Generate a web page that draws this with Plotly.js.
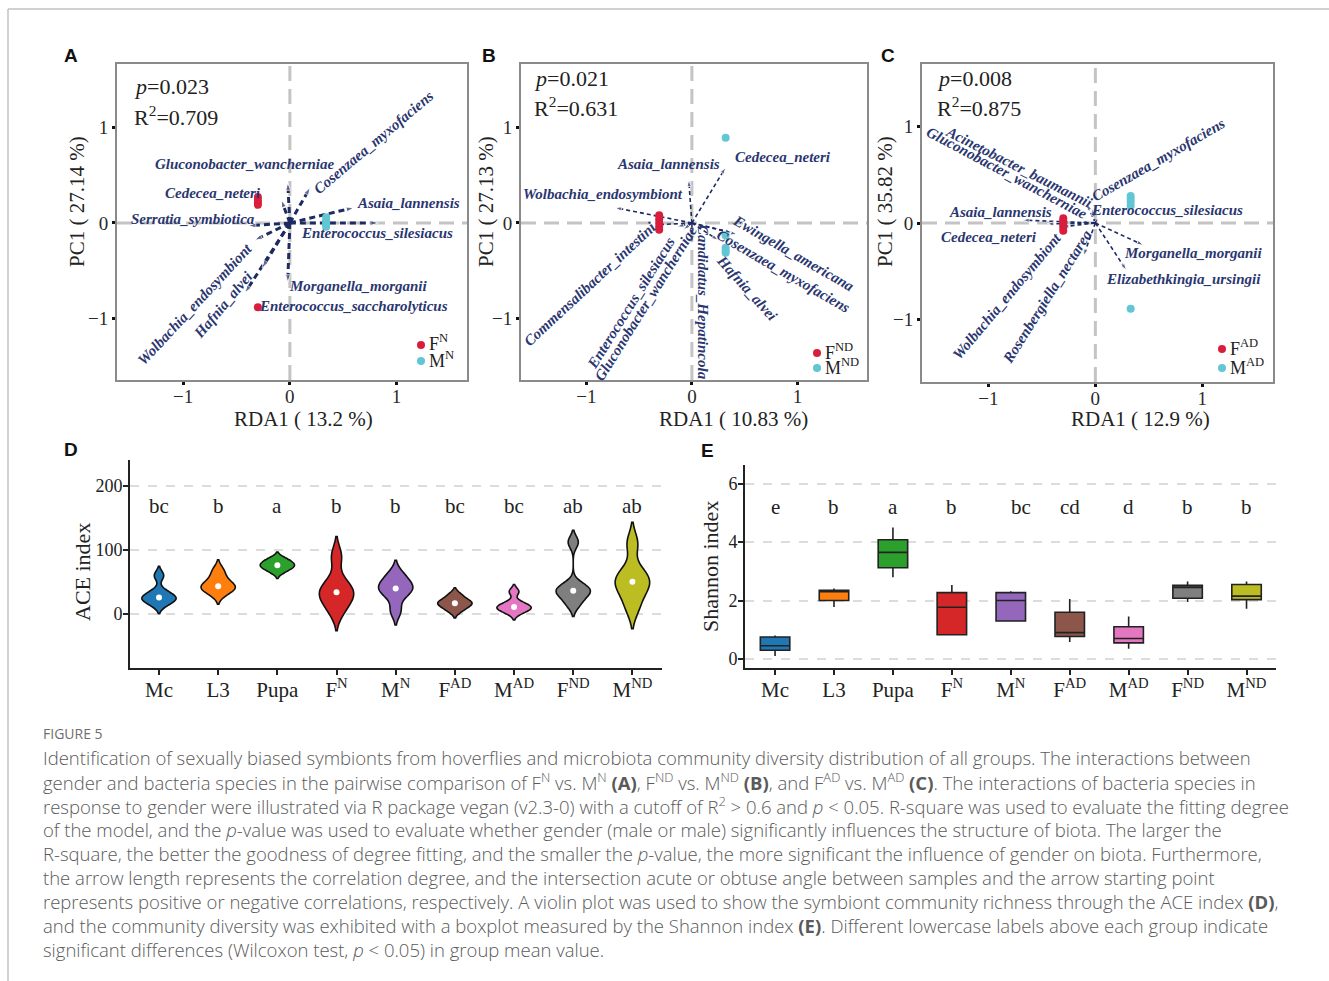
<!DOCTYPE html>
<html><head><meta charset="utf-8">
<script src="https://cdn.plot.ly/plotly-3.0.1.min.js"></script>
<style>html,body{margin:0;padding:0;background:#fff;}#chart{width:1329px;height:981px;}</style>
</head><body><div id="chart"></div>
<script>
// ---------------- DATA ----------------
// Panel A (F^N vs M^N)
const speciesA = ['Gluconobacter_wancherniae','Cedecea_neteri','Cosenzaea_myxofaciens','Asaia_lannensis','Enterococcus_silesiacus','Serratia_symbiotica','Wolbachia_endosymbiont','Hafnia_alvei','Enterococcus_saccharolyticus','Morganella_morganii'];
const loadAx = [-0.02,-0.08,0.19,0.60,0.83,-0.39,-0.33,-0.42,-0.26,-0.02];
const loadAy = [0.42,0.24,0.37,0.16,0.00,-0.03,-0.18,-0.73,-0.47,-0.62];
const ptsAFx = [-0.30,-0.30,-0.30,-0.30,-0.30];
const ptsAFy = [0.27,0.24,0.21,0.19,-0.88];
const ptsAMx = [0.34,0.34,0.34,0.34,0.34];
const ptsAMy = [0.06,0.03,0.00,-0.02,-0.04];
// Panel B (F^ND vs M^ND)
const speciesB = ['Cedecea_neteri','Asaia_lannensis','Wolbachia_endosymbiont','Ewingella_americana','Cosenzaea_myxofaciens','Hafnia_alvei','Candidatus_Hepatincola','Gluconobacter_wancherniae','Enterococcus_silesiacus','Commensalibacter_intestini'];
const loadBx = [0.32,-0.03,-0.73,0.43,0.38,0.25,0.00,-0.08,-0.14,-0.35];
const loadBy = [0.58,0.45,0.16,-0.12,-0.10,-0.18,-0.22,-0.07,-0.04,-0.02];
const ptsBFx = [-0.31,-0.31,-0.31,-0.31,-0.31];
const ptsBFy = [0.08,0.04,0.00,-0.04,-0.07];
const ptsBMx = [0.32,0.32,0.32,0.32,0.32];
const ptsBMy = [0.89,-0.13,-0.26,-0.29,-0.31];
// Panel C (F^AD vs M^AD)
const speciesC = ['Acinetobacter_baumannii','Gluconobacter_wancherniae','Cosenzaea_myxofaciens','Enterococcus_silesiacus','Asaia_lannensis','Cedecea_neteri','Morganella_morganii','Elizabethkingia_ursingii','Wolbachia_endosymbiont','Rosenbergiella_nectarea'];
const loadCx = [-0.08,-0.14,-0.03,0.02,-0.68,-0.45,0.45,0.29,-0.31,-0.11];
const loadCy = [0.20,0.01,0.15,0.05,0.03,-0.01,-0.23,-0.49,-0.04,-0.34];
const ptsCFx = [-0.30,-0.30,-0.30,-0.30,-0.30];
const ptsCFy = [0.05,0.02,-0.02,-0.05,-0.08];
const ptsCMx = [0.33,0.33,0.33,0.33,0.33];
const ptsCMy = [0.28,0.25,0.22,0.18,-0.89];
const statsP = ['0.023','0.021','0.008'];
const statsR2 = ['0.709','0.631','0.875'];
const rdaX = ['RDA1 ( 13.2 %)','RDA1 ( 10.83 %)','RDA1 ( 12.9 %)'];
const rdaY = ['PC1 ( 27.14 %)','PC1 ( 27.13 %)','PC1 ( 35.82 %)'];
const legF = ['F<sup>N</sup>','F<sup>ND</sup>','F<sup>AD</sup>'];
const legM = ['M<sup>N</sup>','M<sup>ND</sup>','M<sup>AD</sup>'];
// Panel D / E groups
const groups = ['Mc','L3','Pupa','F<sup>N</sup>','M<sup>N</sup>','F<sup>AD</sup>','M<sup>AD</sup>','F<sup>ND</sup>','M<sup>ND</sup>'];
const aceMc   = [15,22,25,27,35,60];
const aceL3   = [32,40,42,45,55,68];
const acePupa = [66,72,75,77,82,86];
const aceFN   = [5,22,32,36,50,90];
const aceMN   = [5,30,38,42,50,62];
const aceFAD  = [5,12,16,18,22,30];
const aceMAD  = [2,8,10,12,18,35];
const aceFND  = [15,28,35,38,45,112];
const aceMND  = [10,35,45,56,65,110];
const aceLetters = ['bc','b','a','b','b','bc','bc','ab','ab'];
const shQ1  = [0.30,2.00,3.12,0.83,1.30,0.77,0.55,2.08,2.03];
const shMed = [0.45,2.30,3.65,1.77,2.00,0.90,0.70,2.45,2.15];
const shQ3  = [0.75,2.35,4.08,2.27,2.27,1.60,1.10,2.52,2.55];
const shLo  = [0.10,1.78,2.80,0.80,1.30,0.58,0.35,1.95,1.72];
const shHi  = [0.80,2.41,4.50,2.53,2.32,2.05,1.45,2.65,2.65];
const shLetters = ['e','b','a','b','bc','cd','d','b','b'];

// ---------------- STYLE / LAYOUT ----------------
const W = 1329, H = 981;
const PX = px => px / W, PY = py => 1 - py / H;
const SERIF = 'Liberation Serif, Times New Roman, serif';
const SANS = 'Liberation Sans, Arial, sans-serif';
const CAPF = 'Open Sans, Lato, sans-serif';
const NAVY = '#1e2b63', LABNAVY = '#2a3670';
const RED = '#d81e3c', CYAN = '#62c6d4';
const vColors = ['#1f77b4','#ff7f0e','#2ca02c','#d62728','#9467bd','#8c564b','#e377c2','#7f7f7f','#bcbd22'];

// label placements (px center, angle)
const labPosA = [[245,164,0],[213,193,0],[374,142,-40],[408,203,0],[377,233,0],[193,219,0],[195,304,-47],[223,305,-50],[354,306,0],[359,286,0]];
const labPosB = [[783,157,0],[669,164,0],[603,194,0],[793,253,30],[783,271,30],[747,288,48],[703,302,90],[646,303,-58],[631,303,-58],[590,284,-43]];
const labPosC = [[1019,167,27],[1007,173,28],[1158,160,-30],[1167,210,0],[1000,212,0],[989,237,0],[1193,253,0],[1183,279,0],[1007,296,-50],[1047,297,-58]];

const panels = [
  {ax:'x', ay:'y', xd:[117,467], yd:[64,380], spec:speciesA, lx:loadAx, ly:loadAy, fx:ptsAFx, fy:ptsAFy, mx:ptsAMx, my:ptsAMy, lab:labPosA, lw:3, dash:'6px,4px', ah:8,
   pPos:[132,87], xt:[303,419], yt:[77,202], leg:[[421,345],[421,361]], yr:[-1.64,1.66]},
  {ax:'x2', ay:'y2', xd:[521,867], yd:[64,380], spec:speciesB, lx:loadBx, ly:loadBy, fx:ptsBFx, fy:ptsBFy, mx:ptsBMx, my:ptsBMy, lab:labPosB, lw:1.6, dash:'4px,3px', ah:7,
   pPos:[532,78], xt:[733,419], yt:[486,202], leg:[[817,353],[817,368]], yr:[-1.64,1.66]},
  {ax:'x3', ay:'y3', xd:[922,1273], yd:[64,382], spec:speciesC, lx:loadCx, ly:loadCy, fx:ptsCFx, fy:ptsCFy, mx:ptsCMx, my:ptsCMy, lab:labPosC, lw:1.6, dash:'4px,3px', ah:7,
   pPos:[935,78], xt:[1140,419], yt:[885,202], leg:[[1222,349],[1222,368]], yr:[-1.65,1.65]}
];

const traces = [];
const annotations = [];
const shapes = [];
const layout = {
  width: W, height: H, margin:{l:0,r:0,t:0,b:0}, paper_bgcolor:'#fff', plot_bgcolor:'rgba(0,0,0,0)',
  showlegend:false, violinmode:'overlay', boxmode:'overlay'
};
const ann = o => annotations.push(Object.assign({xref:'paper', yref:'paper', xanchor:'center', yanchor:'middle', showarrow:false}, o));

panels.forEach((p, i) => {
  const xn = i === 0 ? 'xaxis' : 'xaxis' + (i+1);
  const yn = i === 0 ? 'yaxis' : 'yaxis' + (i+1);
  const common = {showline:true, mirror:true, linecolor:'#8a8a8a', linewidth:2, showgrid:false, zeroline:false,
    ticks:'outside', ticklen:3, tickwidth:3, tickcolor:'#111', tickfont:{family:SERIF, size:19, color:'#2a2a2a'}, fixedrange:true};
  layout[xn] = Object.assign({}, common, {domain:[PX(p.xd[0]), PX(p.xd[1])], range:[-1.62,1.66], anchor: p.ay, tickvals:[-1,0,1], ticklabelstandoff:-5});
  layout[yn] = Object.assign({}, common, {domain:[PY(p.yd[1]), PY(p.yd[0])], range:p.yr, anchor: p.ax, tickvals:[-1,0,1]});
  const xdom = p.ax === 'x' ? 'x domain' : p.ax + ' domain';
  const ydom = p.ay === 'y' ? 'y domain' : p.ay + ' domain';
  shapes.push({type:'line', xref:p.ax, yref:ydom, x0:0, x1:0, y0:0, y1:1, line:{color:'#c4c4c4', width:3, dash:'15px,8px'}, layer:'below'});
  shapes.push({type:'line', xref:xdom, yref:p.ay, x0:0, x1:1, y0:0, y1:0, line:{color:'#c4c4c4', width:3, dash:'15px,8px'}, layer:'below'});
  // arrows
  p.spec.forEach((s, k) => {
    traces.push({type:'scatter', mode:'lines+markers', xaxis:p.ax, yaxis:p.ay, x:[0, p.lx[k]], y:[0, p.ly[k]],
      line:{color:NAVY, width:p.lw, dash:p.dash}, marker:{symbol:'arrow', size:[0, p.ah], angleref:'previous', color:NAVY},
      hoverinfo:'skip', name:s});
    const lp = p.lab[k];
    ann({x:PX(lp[0]), y:PY(lp[1]), text:'<b><i>' + s + '</i></b>', textangle:lp[2], font:{family:SERIF, size:15, color:LABNAVY}});
  });
  // sample points
  traces.push({type:'scatter', mode:'markers', xaxis:p.ax, yaxis:p.ay, x:p.fx, y:p.fy, marker:{color:RED, size:8}, hoverinfo:'skip'});
  traces.push({type:'scatter', mode:'markers', xaxis:p.ax, yaxis:p.ay, x:p.mx, y:p.my, marker:{color:CYAN, size:8}, hoverinfo:'skip'});
  // stats text
  ann({x:PX(p.pPos[0]), y:PY(p.pPos[1]), xanchor:'left', text:'<i>p</i>=' + statsP[i], font:{family:SERIF, size:22, color:'#222'}});
  ann({x:PX(p.pPos[0]), y:PY(p.pPos[1]+29), xanchor:'left', text:'R<sup>2</sup>=' + statsR2[i], font:{family:SERIF, size:22, color:'#222'}});
  // axis titles
  ann({x:PX(p.xt[0]), y:PY(p.xt[1]), text:rdaX[i], font:{family:SERIF, size:21, color:'#222'}});
  ann({x:PX(p.yt[0]), y:PY(p.yt[1]), textangle:-90, text:rdaY[i], font:{family:SERIF, size:21, color:'#222'}});
  // legend
  [[legF[i], RED], [legM[i], CYAN]].forEach((e, j) => {
    const c = p.leg[j];
    shapes.push({type:'circle', xref:'paper', yref:'paper', x0:PX(c[0]-4), x1:PX(c[0]+4), y0:PY(c[1]+4), y1:PY(c[1]-4), fillcolor:e[1], line:{width:0}});
    ann({x:PX(c[0]+6), y:PY(c[1]-2), xanchor:'left', text:e[0], font:{family:SERIF, size:18, color:'#222'}});
  });
});

// Panel D violins
const aceSamples = [aceMc, aceL3, acePupa, aceFN, aceMN, aceFAD, aceMAD, aceFND, aceMND];
const median = a => { const s = a.slice().sort((u,v)=>u-v); const n = s.length; return n % 2 ? s[(n-1)/2] : (s[n/2-1] + s[n/2]) / 2; };
aceSamples.forEach((arr, k) => {
  traces.push({type:'violin', xaxis:'x4', yaxis:'y4', x:arr.map(() => groups[k]), y:arr, name:groups[k],
    fillcolor:vColors[k], opacity:1, line:{color:'#111', width:1.6}, points:false, box:{visible:false}, meanline:{visible:false},
    scalemode:'width', width:0.58, spanmode:'soft', hoverinfo:'skip'});
});
traces.push({type:'scatter', mode:'markers', xaxis:'x4', yaxis:'y4', x:groups, y:aceSamples.map(median),
  marker:{color:'#fff', size:6}, hoverinfo:'skip'});

const axD = {showline:true, linecolor:'#222', linewidth:2, zeroline:false, ticks:'outside', ticklen:5, tickwidth:2, tickcolor:'#222', fixedrange:true};
layout.xaxis4 = Object.assign({}, axD, {domain:[PX(130), PX(662)], anchor:'y4', type:'category', categoryorder:'array', categoryarray:groups,
  range:[-0.49, 8.5], showgrid:false, ticklabelstandoff:-3, tickfont:{family:SERIF, size:21, color:'#222'}});
layout.yaxis4 = Object.assign({}, axD, {domain:[PY(668), PY(460)], anchor:'x4', range:[-84, 240], tickvals:[0,100,200], ticklabelstandoff:-3,
  showgrid:true, gridcolor:'#dcdcdc', gridwidth:2, griddash:'dash', tickfont:{family:SERIF, size:18, color:'#222'}});
groups.forEach((g, k) => annotations.push({xref:'x4', yref:'y4', x:g, y:169, xanchor:'center', yanchor:'middle', showarrow:false, text:aceLetters[k],
  font:{family:SERIF, size:21, color:'#222'}}));
ann({x:PX(82), y:PY(572), textangle:-90, text:'ACE index', font:{family:SERIF, size:22, color:'#222'}});

// Panel E boxes
groups.forEach((g, k) => {
  traces.push({type:'box', xaxis:'x5', yaxis:'y5', x:[g], q1:[shQ1[k]], median:[shMed[k]], q3:[shQ3[k]],
    lowerfence:[shLo[k]], upperfence:[shHi[k]], fillcolor:vColors[k], line:{color:'#222', width:1.6},
    whiskerwidth:0, width:0.5, boxpoints:false, hoverinfo:'skip', name:g});
});
layout.xaxis5 = Object.assign({}, axD, {domain:[PX(745), PX(1276)], anchor:'y5', type:'category', categoryorder:'array', categoryarray:groups,
  range:[-0.51, 8.5], showgrid:false, ticklabelstandoff:-3, tickfont:{family:SERIF, size:21, color:'#222'}});
layout.yaxis5 = Object.assign({}, axD, {domain:[PY(668), PY(465)], anchor:'x5', range:[-0.31, 6.64], tickvals:[0,2,4,6], ticklabelstandoff:-3,
  showgrid:true, gridcolor:'#dcdcdc', gridwidth:2, griddash:'dash', tickfont:{family:SERIF, size:18, color:'#222'}});
groups.forEach((g, k) => annotations.push({xref:'x5', yref:'y5', x:g, y:5.2, xanchor:'center', yanchor:'middle', showarrow:false, text:shLetters[k],
  xshift: shLetters[k] === 'bc' ? 10 : 0, font:{family:SERIF, size:21, color:'#222'}}));
ann({x:PX(710), y:PY(567), textangle:-90, text:'Shannon index', font:{family:SERIF, size:22, color:'#222'}});

// Panel letters
[['A',71,55],['B',489,55],['C',888,55],['D',71,449],['E',708,451]].forEach(l =>
  ann({x:PX(l[1]), y:PY(l[2]), text:'<b>' + l[0] + '</b>', font:{family:SANS, size:19, color:'#111'}}));

// Frame
shapes.push({type:'line', xref:'paper', yref:'paper', x0:PX(8), x1:1, y0:PY(9), y1:PY(9), line:{color:'#c2c2c2', width:1.5}});
shapes.push({type:'line', xref:'paper', yref:'paper', x0:PX(8), x1:PX(8), y0:PY(9), y1:0, line:{color:'#c2c2c2', width:1.5}});

// Caption
const capLines = [
 'Identification of sexually biased symbionts from hoverflies and microbiota community diversity distribution of all groups. The interactions between',
 'gender and bacteria species in the pairwise comparison of F<sup>N</sup> vs. M<sup>N</sup> <b>(A)</b>, F<sup>ND</sup> vs. M<sup>ND</sup> <b>(B)</b>, and F<sup>AD</sup> vs. M<sup>AD</sup> <b>(C)</b>. The interactions of bacteria species in',
 'response to gender were illustrated via R package vegan (v2.3-0) with a cutoff of R<sup>2</sup> &gt; 0.6 and <i>p</i> &lt; 0.05. R-square was used to evaluate the fitting degree',
 'of the model, and the <i>p</i>-value was used to evaluate whether gender (male or male) significantly influences the structure of biota. The larger the',
 'R-square, the better the goodness of degree fitting, and the smaller the <i>p</i>-value, the more significant the influence of gender on biota. Furthermore,',
 'the arrow length represents the correlation degree, and the intersection acute or obtuse angle between samples and the arrow starting point',
 'represents positive or negative correlations, respectively. A violin plot was used to show the symbiont community richness through the ACE index <b>(D)</b>,',
 'and the community diversity was exhibited with a boxplot measured by the Shannon index <b>(E)</b>. Different lowercase labels above each group indicate',
 'significant differences (Wilcoxon test, <i>p</i> &lt; 0.05) in group mean value.'
];
ann({x:PX(41), y:PY(733), xanchor:'left', text:'FIGURE 5', font:{family:CAPF, size:14, color:'#6e6e6e'}});
capLines.forEach((t, k) => ann({x:PX(41), y:PY(757 + 24*k), xanchor:'left', align:'left', text:t,
  font:{family:CAPF, size:18.5, weight:300, color:'#5a5a5a'}}));

layout.annotations = annotations;
layout.shapes = shapes;
Plotly.newPlot('chart', traces, layout, {staticPlot:true, displayModeBar:false});
</script>
</body></html>
